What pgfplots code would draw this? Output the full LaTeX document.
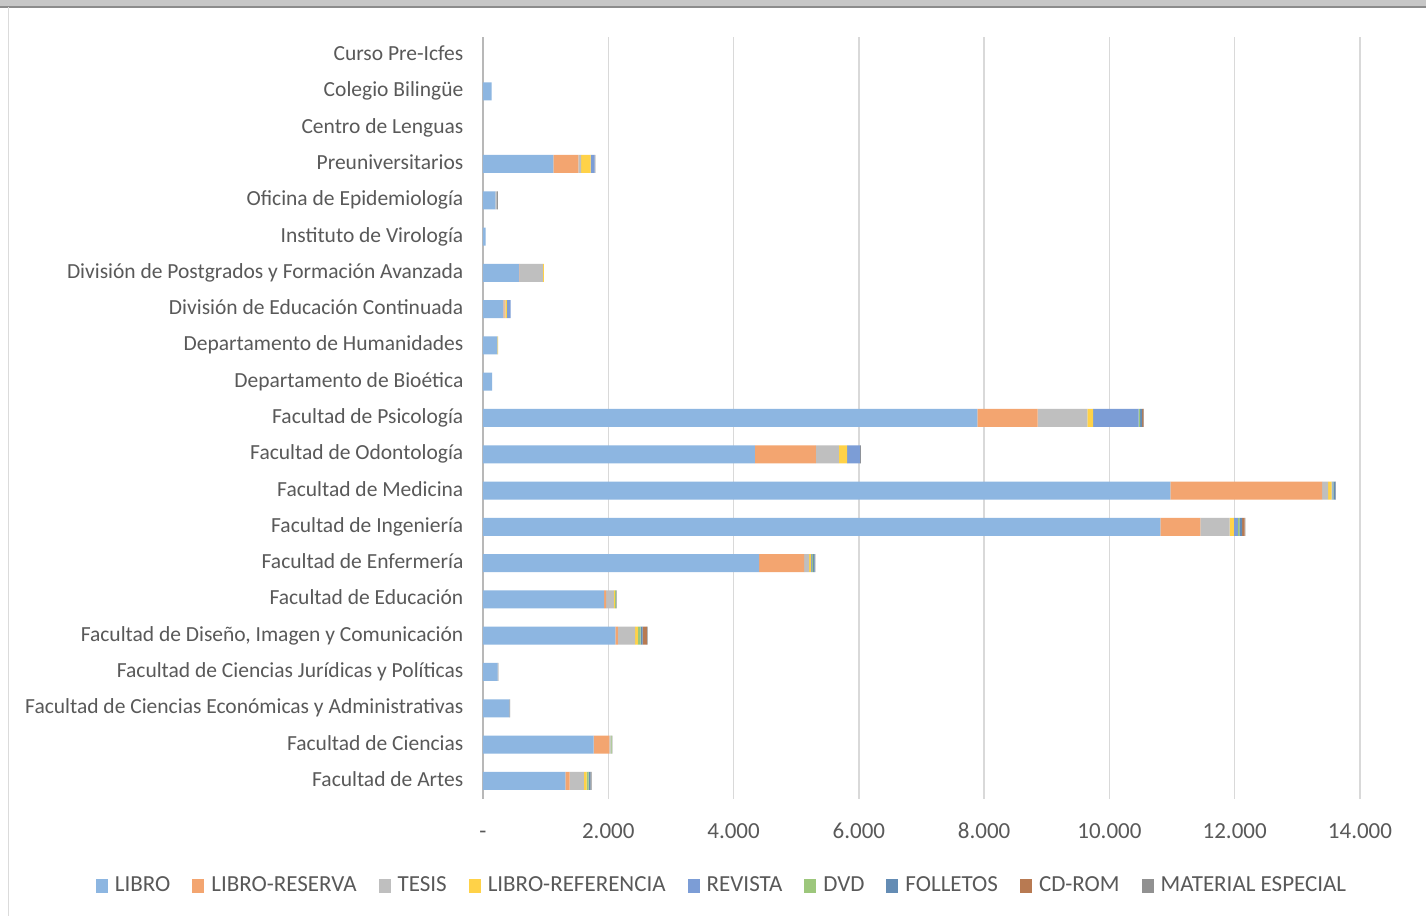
\documentclass[border=0pt]{standalone}
\usepackage{pgfplots}
\pgfplotsset{compat=1.18}
\usepackage{pgfplotstable}
\usepackage{fontspec}
\setmainfont{Carlito}

\definecolor{txtgray}{RGB}{89,89,89}
\definecolor{cLibro}{RGB}{141,182,225}
\definecolor{cReserva}{RGB}{243,165,112}
\definecolor{cTesis}{RGB}{191,191,191}
\definecolor{cRef}{RGB}{255,210,72}
\definecolor{cRevista}{RGB}{124,157,214}
\definecolor{cDvd}{RGB}{157,199,124}
\definecolor{cFolletos}{RGB}{100,140,180}
\definecolor{cCdrom}{RGB}{184,122,82}
\definecolor{cMaterial}{RGB}{145,145,145}

% y = position from bottom (0 = Facultad de Artes)
\pgfplotstableread{
y  libro reserva tesis ref revista dvd folletos cdrom material
0  1314  70   228  43  0   30  30  0   20
1  1767  250  20   0   0   15  0   0   15
2  420   0    0    0   0   0   0   0   12
3  235   0    0    0   0   0   0   0   10
4  2112  43   272  47  0   43  30  70  12
5  1932  32   127  16  0   15  0   0   10
6  4406  720  82   31  15  15  25  0   10
7  10813 638  467  70  62  26  44  37  13
8  10971 2424 95   56  15  15  30  0   10
9  4342  973  366  133 208 0   0   0   10
10 7890  965  791  94  726 25  30  20  10
11 144   0    0    0   0   0   0   0   0
12 230   0    0    10  0   0   0   0   0
13 325   21   11   26  59  0   0   0   0
14 580   8    367  15  0   0   0   0   0
15 40    0    0    0   0   0   0   0   0
16 196   0    30   0   0   0   0   0   12
17 1122  399  44   154 64  0   0   0   10
18 0     0    0    0   0   0   0   0   0
19 139   0    0    0   0   0   0   0   0
20 0     0    0    0   0   0   0   0   0
}\datos

\begin{document}
\begin{tikzpicture}
  % frame of the chart area
  \fill[white] (0,0) rectangle (713pt,458pt);
  \fill[black!22] (0,454.5pt) rectangle (713pt,458pt);
  \draw[black!45, line width=0.8pt] (0,454.5pt) -- (713pt,454.5pt);
  \draw[black!14, line width=0.7pt] (4.2pt,0) -- (4.2pt,454.5pt);
  \begin{axis}[
      at={(241.5pt,58.5pt)}, anchor=south west,
      scale only axis,
      width=438.5pt, height=381pt,
      xbar stacked,
      bar width=9pt,
      xmin=0, xmax=14000,
      ymin=-0.5, ymax=20.5,
      scaled x ticks=false,
      xtick={0,2000,...,14000},
      xticklabels={-,2.000,4.000,6.000,8.000,10.000,12.000,14.000},
      ytick={0,...,20},
      yticklabels={
        Facultad de Artes,
        Facultad de Ciencias,
        Facultad de Ciencias Económicas y Administrativas,
        Facultad de Ciencias Jurídicas y Políticas,
        {Facultad de Diseño, Imagen y Comunicación},
        Facultad de Educación,
        Facultad de Enfermería,
        Facultad de Ingeniería,
        Facultad de Medicina,
        Facultad de Odontología,
        Facultad de Psicología,
        Departamento de Bioética,
        Departamento de Humanidades,
        División de Educación Continuada,
        División de Postgrados y Formación Avanzada,
        Instituto de Virología,
        Oficina de Epidemiología,
        Preuniversitarios,
        Centro de Lenguas,
        Colegio Bilingüe,
        Curso Pre-Icfes},
      tick style={draw=none},
      axis line style={draw=none},
      xmajorgrids,
      grid style={draw=black!15, line width=0.7pt},
      extra x ticks={0},
      extra x tick labels={},
      extra x tick style={grid style={draw=black!28, line width=0.9pt}},
      xticklabel style={font=\fontsize{11.5}{13}\selectfont, text=txtgray,
        text height=1.6ex, text depth=0.3ex, yshift=-8.5pt},
      yticklabel style={font=\fontsize{10.75}{12}\selectfont, text=txtgray,
        text height=1.6ex, text depth=0.45ex, xshift=-6.3pt},
      legend columns=-1,
      legend style={at={(0.2737,-0.114)}, anchor=center, draw=none,
        font=\fontsize{11.5}{13}\selectfont, text=txtgray,
        /tikz/every odd column/.append style={column sep=1.5pt},
        /tikz/every even column/.append style={column sep=9pt}},
      legend image code/.code={\fill[#1] (0pt,-3.5pt) rectangle (6pt,3.5pt);},
    ]
    \addplot[fill=cLibro, draw=none] table[x=libro, y=y] {\datos};
    \addplot[fill=cReserva, draw=none] table[x=reserva, y=y] {\datos};
    \addplot[fill=cTesis, draw=none] table[x=tesis, y=y] {\datos};
    \addplot[fill=cRef, draw=none] table[x=ref, y=y] {\datos};
    \addplot[fill=cRevista, draw=none] table[x=revista, y=y] {\datos};
    \addplot[fill=cDvd, draw=none] table[x=dvd, y=y] {\datos};
    \addplot[fill=cFolletos, draw=none] table[x=folletos, y=y] {\datos};
    \addplot[fill=cCdrom, draw=none] table[x=cdrom, y=y] {\datos};
    \addplot[fill=cMaterial, draw=none] table[x=material, y=y] {\datos};
    \legend{LIBRO, LIBRO-RESERVA, TESIS, LIBRO-REFERENCIA, REVISTA, DVD, FOLLETOS, CD-ROM, MATERIAL ESPECIAL}
  \end{axis}
  \pgfresetboundingbox
  \path[use as bounding box] (0,0) rectangle (713pt,458pt);
\end{tikzpicture}
\end{document}
